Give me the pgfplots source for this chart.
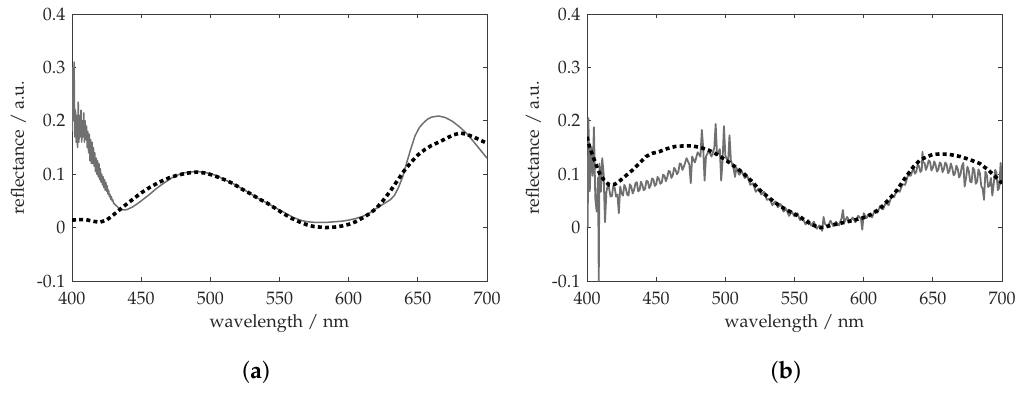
\documentclass[border=0pt]{standalone}
\usepackage[T1]{fontenc}
\usepackage{mathpazo}
\usepackage{pgfplots}
\pgfplotsset{compat=1.18}
\definecolor{meas}{RGB}{112,112,112}
\definecolor{axc}{RGB}{60,60,60}

\pgfplotstableread{
x y
400 0.18
400.5 0.30
401 0.20
401.5 0.31
402 0.17
402.5 0.22
403 0.16
403.5 0.21
404 0.15
404.5 0.235
405 0.16
405.5 0.21
406 0.17
406.5 0.22
407 0.16
407.5 0.20
408 0.17
408.5 0.215
409 0.16
409.5 0.20
410 0.165
410.5 0.19
411 0.15
411.5 0.18
412 0.14
412.5 0.175
413 0.125
413.5 0.165
414 0.12
414.5 0.16
415 0.12
415.5 0.15
416 0.115
416.5 0.14
417 0.105
417.5 0.13
418 0.10
418.5 0.125
419 0.095
419.5 0.12
420 0.09
420.5 0.11
421 0.085
421.5 0.10
422 0.08
422.5 0.095
423 0.075
423.5 0.09
424 0.07
424.5 0.085
425 0.068
425.5 0.078
426 0.063
426.5 0.07
427 0.058
427.5 0.062
428 0.053
428.5 0.058
429 0.05
429.5 0.052
430 0.046
432 0.041
434 0.036
436 0.034
438 0.033
440 0.034
444 0.039
448 0.046
452 0.054
456 0.062
460 0.071
464 0.079
468 0.086
472 0.093
476 0.098
480 0.102
485 0.104
490 0.105
495 0.104
500 0.101
505 0.097
510 0.090
516 0.083
520 0.077
525 0.070
530 0.062
535 0.054
541 0.046
545 0.040
550 0.033
555 0.026
560 0.019
565 0.014
570 0.011
575 0.010
580 0.010
585 0.010
590 0.011
595 0.012
600 0.014
605 0.017
610 0.021
615 0.027
620 0.036
625 0.044
630 0.052
633 0.060
636 0.075
639 0.095
642 0.122
645 0.148
648 0.172
651 0.187
654 0.196
657 0.203
660 0.207
665 0.209
670 0.206
675 0.199
680 0.189
685 0.177
690 0.162
695 0.146
700 0.130
}\measA

\pgfplotstableread{
x y
400 0.014
405 0.015
410 0.015
415 0.012
420 0.010
425 0.014
430 0.024
437 0.039
444 0.053
450 0.065
456 0.075
463 0.085
470 0.093
476 0.098
483 0.102
490 0.104
497 0.102
503 0.097
510 0.090
516 0.083
523 0.072
530 0.062
535 0.054
541 0.046
547 0.036
553 0.026
559 0.017
565 0.010
570 0.005
575 0.002
583 0.000
590 0.001
595 0.003
600 0.006
605 0.011
610 0.018
615 0.026
620 0.036
625 0.051
630 0.068
635 0.087
640 0.106
645 0.122
650 0.136
655 0.146
660 0.154
666 0.161
672 0.169
676 0.174
681 0.177
685 0.175
690 0.170
695 0.164
700 0.158
}\fitA

\pgfplotstableread{
x y
400 0.114
400.5 0.002
401 0.205
402 0.068
403 0.150
404 0.097
405 0.188
406 0.054
407 0.030
408 0.094
408.5 -0.100
409 0.120
410 0.067
411 0.130
412 0.101
413 0.010
414 0.066
415 0.080
416 0.073
417 0.058
418 0.059
419 0.078
420 0.075
421 0.058
422 0.062
423 0.027
424 0.077
425 0.064
426 0.060
427 0.080
428 0.074
429 0.062
430 0.060
431 0.081
432 0.077
433 0.064
434 0.070
435 0.083
436 0.085
437 0.068
438 0.070
439 0.086
440 0.080
441 0.070
442 0.073
443 0.088
444 0.086
445 0.074
446 0.079
447 0.092
448 0.090
449 0.078
450 0.081
451 0.095
452 0.091
453 0.082
454 0.084
455 0.099
456 0.097
457 0.087
458 0.094
459 0.106
460 0.105
461 0.093
462 0.098
463 0.112
464 0.108
465 0.100
466 0.104
467 0.120
468 0.119
469 0.108
470 0.114
472 0.130
474 0.118
475 0.083
476 0.133
478 0.122
480 0.141
482 0.133
483 0.183
484 0.149
485 0.088
486 0.133
488 0.144
490 0.133
492 0.149
493 0.194
494 0.136
496 0.147
497 0.088
498 0.127
499 0.190
500 0.135
502 0.122
503 0.173
504 0.126
506 0.110
507 0.095
508 0.112
510 0.099
512 0.105
514 0.093
516 0.096
518 0.080
520 0.083
522 0.067
524 0.073
526 0.062
528 0.067
530 0.052
532 0.054
534 0.042
536 0.049
538 0.038
540 0.044
542 0.030
544 0.035
546 0.022
548 0.030
550 0.021
552 0.027
554 0.014
556 0.017
558 0.006
560 0.014
562 0.004
564 0.011
566 -0.002
568 0.004
570 -0.006
571 0.020
572 0.007
574 0.002
576 0.013
578 0.003
580 0.011
582 0.004
584 0.017
585 0.033
586 0.010
588 0.020
590 0.010
592 0.019
594 0.010
596 0.022
598 0.017
599 -0.004
600 0.027
602 0.018
604 0.026
606 0.019
608 0.032
610 0.028
612 0.041
614 0.034
616 0.047
618 0.042
620 0.058
622 0.057
624 0.071
626 0.067
628 0.081
630 0.080
632 0.098
634 0.097
636 0.112
637 0.101
638 0.104
639 0.118
640 0.115
641 0.104
642 0.108
642.5 0.142
643 0.122
644 0.121
645 0.108
646 0.115
647 0.126
648 0.123
649 0.107
650 0.112
651 0.124
652 0.117
653 0.105
654 0.109
655 0.122
656 0.119
657 0.104
658 0.110
659 0.122
660 0.118
661 0.102
662 0.106
663 0.120
664 0.112
665 0.098
666 0.101
667 0.116
668 0.110
669 0.094
670 0.100
671 0.115
672 0.121
673 0.077
674 0.093
675 0.114
676 0.106
677 0.086
678 0.085
679 0.112
680 0.108
681 0.082
682 0.086
683 0.109
684 0.102
685 0.078
686 0.073
687 0.052
688 0.105
689 0.099
690 0.076
691 0.079
692 0.093
693 0.060
694 0.082
695 0.108
696 0.103
697 0.070
698 0.075
699 0.121
700 0.088
}\measB

\pgfplotstableread{
x y
400 0.170
402 0.150
404.4 0.133
407 0.115
409 0.102
412 0.090
416 0.080
420 0.081
423 0.086
428 0.097
433 0.108
438 0.121
442.6 0.133
447 0.139
452 0.142
458 0.148
464 0.152
470 0.153
476 0.153
482 0.150
488 0.145
494 0.137
500 0.127
506 0.116
513 0.102
519 0.087
525 0.070
531 0.057
537 0.045
543 0.035
549 0.027
554 0.020
558 0.013
561 0.008
565 0.003
568.5 0.000
572 0.001
576 0.004
583 0.008
590 0.012
596 0.016
602 0.020
607 0.027
612 0.036
618 0.052
624 0.070
630 0.093
636 0.114
641 0.127
646 0.133
650 0.137
655.5 0.138
662 0.137
670 0.133
677 0.127
684 0.120
690 0.108
695 0.096
700 0.083
}\fitB

\pgfplotsset{
  specax/.style={
    scale only axis, width=415pt, height=267pt,
    anchor=south west,
    xmin=400, xmax=700, ymin=-0.1, ymax=0.4,
    xtick={400,450,500,550,600,650,700},
    xticklabels={400,450,500,550,600,650,700},
    ytick={-0.1,0,0.1,0.2,0.3,0.4},
    yticklabels={-0.1,0,0.1,0.2,0.3,0.4},
    tick align=inside, major tick length=4pt,
    axis line style={color=axc, line width=0.9pt},
    every tick/.style={color=axc, line width=0.9pt},
    tick label style={font=\fontsize{18}{20}\selectfont, text=black!85},
    xticklabel style={yshift=-7pt},
    yticklabel style={xshift=-3pt},
    xlabel={wavelength / nm}, ylabel={reflectance / a.u.},
    every axis x label/.style={at={(axis description cs:0.5,-0.176)}, anchor=base,
      font=\fontsize{18}{20}\selectfont, text=black!85},
    every axis y label/.style={at={(axis description cs:-0.116,0.5)}, rotate=90, anchor=base,
      font=\fontsize{18}{20}\selectfont, text=black!85},
    clip=true,
  },
  meas/.style={color=meas, line width=1.5pt, line join=round},
  fit/.style={color=black, line width=3.6pt, dash pattern=on 4pt off 3.2pt},
}

\begin{document}
\begin{tikzpicture}
\path[use as bounding box] (0pt,0pt) rectangle (1024pt,392pt);
\begin{axis}[specax, at={(72pt,111pt)}]
\addplot[meas] table[x=x,y=y] {\measA};
\addplot[fit] table[x=x,y=y] {\fitA};
\end{axis}
\begin{axis}[specax, at={(587pt,111pt)}]
\addplot[meas, line width=1.8pt] table[x=x,y=y] {\measB};
\addplot[fit] table[x=x,y=y] {\fitB};
\end{axis}
\node[anchor=base, font=\fontsize{24}{28}\selectfont] at (256pt,14pt) {(\textbf{a})};
\node[anchor=base, font=\fontsize{24}{28}\selectfont] at (786pt,14pt) {(\textbf{b})};
\end{tikzpicture}
\end{document}
